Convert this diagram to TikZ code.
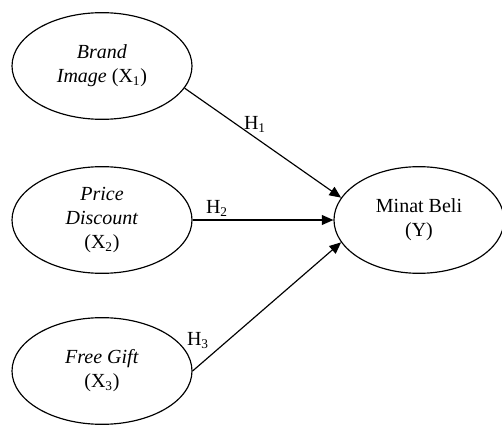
\documentclass[tikz,border=0pt]{standalone}
\usepackage{fontspec}
\setmainfont{Liberation Serif}
\usetikzlibrary{shapes.geometric,arrows.meta}
\begin{document}
\begin{tikzpicture}[x=0.6pt,y=-0.6pt,
		every node/.style={font=\fontsize{12}{14.4}\selectfont,align=center},
		var/.style={ellipse,draw,line width=0.7pt,inner sep=0pt,minimum width=108pt,minimum height=64pt},
		every edge/.style={draw,line width=0.7pt,-{Triangle[length=7pt,width=6pt]}}]
	\useasboundingbox (0,0) rectangle (502,425);
	\node[var] (X1) at (102,66) {\textit{Brand}\\\textit{Image} (X\textsubscript{1})};
	\node[var] (X2) at (102,220) {\textit{Price}\\\textit{Discount}\\(X\textsubscript{2})};
	\node[var] (X3) at (102,371) {\textit{Free Gift}\\(X\textsubscript{3})};
	\node[var,minimum width=102pt] (Y) at (419,220) {Minat Beli\\(Y)};
	\path (X1.-15) edge (Y.164);
	\path (X2.east) edge (Y.west);
	\path (X3.east) edge (Y.196);
	\node (H1) at (255,124) {H\textsubscript{1}};
	\node (H2) at (217,208) {H\textsubscript{2}};
	\node (H3) at (198,341) {H\textsubscript{3}};
\end{tikzpicture}
\end{document}
